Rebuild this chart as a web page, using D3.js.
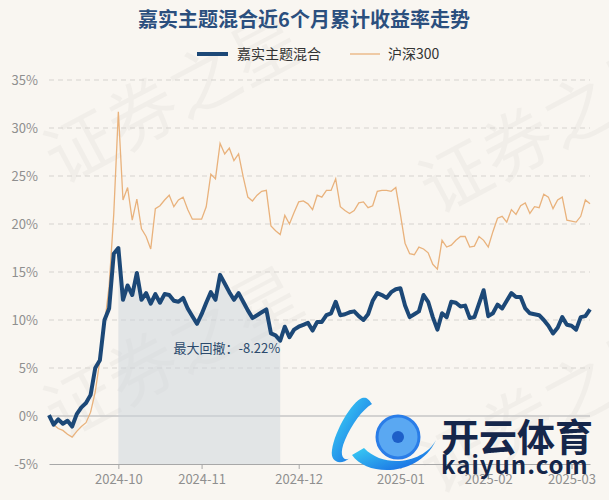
<!DOCTYPE html>
<html>
<head>
<meta charset="utf-8">
<script src="https://cdn.jsdelivr.net/npm/d3@7"></script>
<style>
  body { margin: 0; background: #f9f6f1; }
  svg { display: block; font-family: "Noto Sans CJK SC", "Noto Sans", sans-serif; }
</style>
</head>
<body>
<div id="chart"></div>
<script>
// series (cumulative return, %), one value per trading day
var fund = [0.1, -0.9, -0.35, -0.8, -0.5, -1.1, 0.2, 0.9, 1.35, 2.2,
  5.0, 5.8, 10.0, 11.2, 16.9, 17.5, 12.1, 13.6, 12.6, 14.9,
  12.1, 12.8, 11.7, 12.7, 11.8, 12.7, 12.6, 12.0, 11.9, 12.3,
  11.2, 10.4, 9.6, 10.6, 11.8, 12.9, 12.1, 14.7, 13.8, 12.9,
  12.1, 12.8, 11.9, 11.0, 10.2, 10.5, 10.8, 11.1, 8.6, 8.4,
  7.84, 9.3, 8.2, 9.0, 9.3, 9.5, 9.7, 8.9, 9.8, 9.8,
  10.5, 10.7, 11.9, 10.5, 10.6, 10.8, 10.9, 10.4, 10.0, 10.6,
  12.0, 12.8, 12.6, 12.3, 12.9, 13.2, 13.3, 11.5, 10.3, 10.6,
  10.9, 12.6, 11.9, 10.3, 9.0, 10.7, 10.3, 11.9, 11.8, 11.4,
  11.5, 10.2, 10.3, 11.7, 13.1, 10.4, 10.7, 11.6, 11.2, 12.0,
  12.8, 12.4, 12.4, 11.2, 10.7, 10.6, 10.5, 10.0, 9.4, 8.6,
  9.2, 10.3, 9.5, 9.4, 9.0, 10.3, 10.4, 11.1];

var hs300 = [0.0, -0.9, -1.3, -1.5, -1.9, -2.2, -1.6, -1.1, -0.7, 0.4,
  2.5, 5.8, 9.5, 13.5, 21.0, 31.7, 22.5, 23.8, 20.4, 22.6,
  19.5, 18.7, 17.4, 21.6, 21.9, 22.5, 23.0, 21.8, 22.5, 22.8,
  21.5, 20.5, 20.5, 20.5, 21.8, 25.2, 24.7, 28.4, 27.3, 27.9,
  26.6, 27.3, 24.9, 22.8, 22.4, 23.0, 23.4, 23.5, 19.8, 19.3,
  18.9, 20.9, 20.0, 21.2, 22.3, 22.4, 22.1, 21.5, 23.0, 22.8,
  23.5, 23.5, 24.7, 21.8, 21.4, 21.1, 21.4, 22.2, 22.3, 21.7,
  21.9, 23.4, 23.5, 23.5, 23.4, 23.8, 21.0, 18.0, 16.9, 16.8,
  17.6, 17.4, 17.0, 15.8, 15.3, 18.3, 17.6, 17.8, 18.3, 18.7,
  18.7, 17.6, 17.7, 18.7, 18.3, 17.6, 19.2, 20.6, 20.8, 20.2,
  21.5, 21.0, 21.9, 22.2, 21.1, 21.8, 21.7, 23.1, 22.8, 21.6,
  22.5, 22.8, 20.4, 20.3, 20.2, 20.8, 22.5, 22.1];

var seriesNames = ["嘉实主题混合", "沪深300"];
var xTickIndex = [15, 33, 54, 76, 95, 113];
var xTickLabels = ["2024-10", "2024-11", "2024-12", "2025-01", "2025-02", "2025-03"];
var yTicks = [-5, 0, 5, 10, 15, 20, 25, 30, 35];
var ddStart = 15, ddEnd = 50;
var ddLabel = "最大回撤：-8.22%";

var width = 609, height = 500;
// plot box (note: "top" is a reserved window prop, so use a margin object)
var box = {left: 49, right: 590, top: 80, bottom: 464};

var svg = d3.select("#chart").append("svg")
  .attr("width", width)
  .attr("height", height);

svg.append("rect").attr("width", width).attr("height", height).attr("fill", "#f9f6f1");

// watermark
var wm = svg.append("g").attr("fill", "#000").attr("fill-opacity", 0.03)
  .attr("font-size", 70);
[[185, 120], [185, 375], [560, 150], [560, 430]].forEach(function(p) {
  wm.append("text")
    .attr("transform", "translate(" + p[0] + "," + p[1] + ") rotate(-28)")
    .attr("text-anchor", "middle")
    .text("证券之星");
});

var x = d3.scaleLinear().domain([0, fund.length - 1]).range([box.left, box.right]);
var y = d3.scaleLinear().domain([-5, 35]).range([box.bottom, box.top]);

// grid
svg.append("g").selectAll("line")
  .data(yTicks.filter(function(d) { return d != -5 && d != 0; }))
  .enter().append("line")
  .attr("x1", box.left).attr("x2", box.right)
  .attr("y1", d => y(d)).attr("y2", d => y(d))
  .attr("stroke", "#d6d3cf")
  .attr("stroke-dasharray", "5,4");

svg.append("line")
  .attr("x1", box.left).attr("x2", box.right)
  .attr("y1", y(0)).attr("y2", y(0))
  .attr("stroke", "#c6c6c6").attr("stroke-width", 1.5);

// y labels
svg.append("g").selectAll("text")
  .data(yTicks).enter().append("text")
  .attr("x", 38).attr("y", d => y(d) + 5)
  .attr("text-anchor", "end")
  .attr("font-size", 13)
  .attr("fill", "#8f8f8f")
  .text(d => d + "%");

// drawdown area
var ddArea = d3.area()
  .x((d, i) => x(ddStart + i))
  .y0(y(-5))
  .y1(d => y(d));
svg.append("path")
  .datum(fund.slice(ddStart, ddEnd + 1))
  .attr("d", ddArea)
  .attr("fill", "#ccd4db")
  .attr("fill-opacity", 0.5);

// x axis
var xAxis = d3.axisBottom(x)
  .tickValues(xTickIndex)
  .tickFormat((d, i) => xTickLabels[i])
  .tickSize(5)
  .tickSizeOuter(0);
var gx = svg.append("g")
  .attr("transform", "translate(0," + box.bottom + ")")
  .call(xAxis);
gx.select(".domain").attr("stroke", "#a8a8a8");
gx.selectAll(".tick line").attr("stroke", "#a8a8a8");
gx.selectAll(".tick text")
  .attr("font-size", 13)
  .attr("fill", "#8f8f8f")
  .attr("font-family", "\"Noto Sans CJK SC\", sans-serif")
  .attr("dy", "0.9em");

var line = d3.line()
  .x((d, i) => x(i))
  .y(d => y(d));

svg.append("path")
  .datum(hs300)
  .attr("d", line)
  .attr("fill", "none")
  .attr("stroke", "#e9b27c")
  .attr("stroke-width", 1.3);

svg.append("path")
  .datum(fund)
  .attr("d", line)
  .attr("fill", "none")
  .attr("stroke", "#1c4877")
  .attr("stroke-width", 4)
  .attr("stroke-linejoin", "round");

svg.append("text")
  .attr("x", x(ddEnd))
  .attr("y", 353)
  .attr("text-anchor", "end")
  .attr("font-size", 13)
  .attr("fill", "#2b4a6d")
  .text(ddLabel);

// title
svg.append("text")
  .attr("x", 304).attr("y", 27)
  .attr("text-anchor", "middle")
  .attr("font-size", 20)
  .attr("font-weight", "bold")
  .attr("fill", "#2b4f7e")
  .text("嘉实主题混合近6个月累计收益率走势");

// legend
var legend = svg.append("g");
legend.append("line").attr("x1", 197).attr("x2", 228).attr("y1", 54).attr("y2", 54)
  .attr("stroke", "#1c4877").attr("stroke-width", 4);
legend.append("text").attr("x", 237).attr("y", 59).attr("font-size", 14).attr("fill", "#333")
  .text(seriesNames[0]);
legend.append("line").attr("x1", 350).attr("x2", 380).attr("y1", 54).attr("y2", 54)
  .attr("stroke", "#e9b27c").attr("stroke-width", 1.3);
legend.append("text").attr("x", 388).attr("y", 59).attr("font-size", 14).attr("fill", "#333")
  .text(seriesNames[1]);

// logo overlay (bottom right)
var logo = svg.append("g");
var grad = svg.append("defs").append("linearGradient").attr("id", "lg")
  .attr("x1", "0").attr("y1", "0").attr("x2", "1").attr("y2", "1");
grad.append("stop").attr("offset", "0%").attr("stop-color", "#3fe0f7");
grad.append("stop").attr("offset", "100%").attr("stop-color", "#1258e0");
// K-ish swoosh
logo.append("path")
  .attr("d", "M362,398 C352,402 335,430 332,450 C330,462 340,466 350,458 C344,462 338,456 345,440 C352,424 362,410 372,404 C368,398 366,397 362,398 Z")
  .attr("fill", "url(#lg)");
logo.append("path")
  .attr("d", "M352,455 C368,478 420,476 436,440 C425,462 385,470 364,448 Z")
  .attr("fill", "url(#lg)");
logo.append("circle").attr("cx", 398).attr("cy", 437).attr("r", 21)
  .attr("fill", "#5aa8f2").attr("stroke", "#2a7de8").attr("stroke-width", 3);
logo.append("circle").attr("cx", 398).attr("cy", 437).attr("r", 6).attr("fill", "#1d5fc8");
logo.append("text").attr("x", 441).attr("y", 451)
  .attr("font-size", 38).attr("font-weight", "bold").attr("fill", "#15264a")
  .text("开云体育");
logo.append("text").attr("x", 441).attr("y", 474)
  .attr("font-size", 24).attr("font-weight", "bold").attr("fill", "#15264a")
  .attr("letter-spacing", 1)
  .text("kaiyun.com");
</script>
</body>
</html>
